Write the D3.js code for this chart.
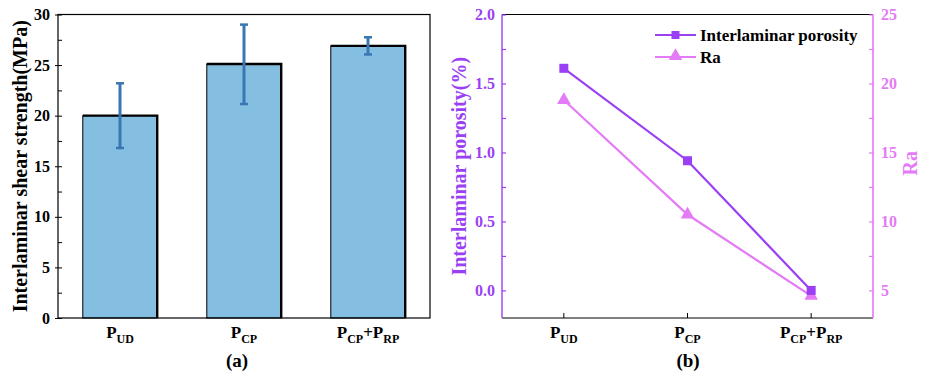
<!DOCTYPE html>
<html>
<head>
<meta charset="utf-8">
<script src="https://cdn.jsdelivr.net/npm/d3@7"></script>
<style>
  body { margin: 0; background: #fff; }
</style>
</head>
<body>
<div id="chart"></div>
<script>
// categories, with label pieces [text, isSubscript]
const categories = ["PUD", "PCP", "PCP+PRP"];
const catParts = [
    [["P", false], ["UD", true]],
    [["P", false], ["CP", true]],
    [["P", false], ["CP", true], ["+P", false], ["RP", true]]
];
const shearStrength = [20.0, 25.1, 26.9];
const shearErrUp = [23.2, 29.0, 27.75];
const shearErrLow = [16.8, 21.15, 26.05];
const porosity = [1.61, 0.94, 0.0];
const ra = [18.8, 10.5, 4.6];
const shearTicks = [0, 5, 10, 15, 20, 25, 30];
const porTicks = [0.0, 0.5, 1.0, 1.5, 2.0];
const raTicks = [5, 10, 15, 20, 25];

const width = 930, height = 377;
const purple = "#9b3ff5", pink = "#e47af5";
const barFill = "#84bfe2", errColor = "#3a76b2";
const FONT = "'Liberation Serif', 'Times New Roman', 'DejaVu Serif', serif";

const svg = d3.select("#chart").append("svg")
    .attr("width", width).attr("height", height)
    .style("font-family", FONT);

const yTop = 14.5, yBot = 318;

function catLabel(g, x, y, parts) {
    const t = g.append("text").attr("x", x).attr("y", y)
        .attr("text-anchor", "middle").attr("font-family", FONT)
        .style("font-weight", "bold").style("font-size", "17px");
    let shifted = false;
    parts.forEach(([s, sub]) => {
        const ts = t.append("tspan").text(s);
        if (sub) { ts.style("font-size", "12px").attr("dy", 5); shifted = true; }
        else if (shifted) { ts.attr("dy", -5); shifted = false; }
    });
}

function styleTicks(g, col) {
    g.attr("font-family", FONT).attr("font-size", 16).attr("font-weight", "bold");
    g.selectAll("text").attr("fill", col);
}

// ---------------- panel (a) ----------------
const xA = d3.scaleBand().domain(categories).range([58, 430]).paddingInner(0.4).paddingOuter(0.2);
const yA = d3.scaleLinear().domain([0, 30]).range([yBot, yTop]);
const gA = svg.append("g");

// bars
gA.selectAll("rect.bar").data(categories).enter().append("rect")
    .attr("class", "bar")
    .attr("x", d => xA(d))
    .attr("y", (d, i) => yA(shearStrength[i]))
    .attr("width", xA.bandwidth())
    .attr("height", (d, i) => yA(0) - yA(shearStrength[i]))
    .attr("fill", barFill)
    .attr("stroke", "#000").attr("stroke-width", 1);
// thicker top + right edges
gA.selectAll("path.edge").data(categories).enter().append("path")
    .attr("d", (d, i) => `M${xA(d)},${yA(shearStrength[i])}H${xA(d) + xA.bandwidth()}V${yA(0)}`)
    .attr("fill", "none").attr("stroke", "#000").attr("stroke-width", 2.4);

// error bars
const eb = gA.selectAll("g.err").data(categories).enter().append("g")
    .attr("transform", d => `translate(${xA(d) + xA.bandwidth() / 2},0)`);
eb.append("line").attr("y1", (d, i) => yA(shearErrUp[i])).attr("y2", (d, i) => yA(shearErrLow[i]))
    .attr("stroke", errColor).attr("stroke-width", 3);
eb.append("line").attr("x1", -4).attr("x2", 4)
    .attr("y1", (d, i) => yA(shearErrUp[i])).attr("y2", (d, i) => yA(shearErrUp[i]))
    .attr("stroke", errColor).attr("stroke-width", 2.5);
eb.append("line").attr("x1", -4).attr("x2", 4)
    .attr("y1", (d, i) => yA(shearErrLow[i])).attr("y2", (d, i) => yA(shearErrLow[i]))
    .attr("stroke", errColor).attr("stroke-width", 2.5);

// frame
gA.append("rect").attr("x", 58).attr("y", yTop).attr("width", 372).attr("height", yBot - yTop)
    .attr("fill", "none").attr("stroke", "#000").attr("stroke-width", 1.2);

// y axis
gA.append("g").attr("transform", "translate(58,0)")
    .call(d3.axisLeft(yA).tickValues(shearTicks).tickSize(3).tickPadding(5).tickFormat(d3.format("d")))
    .call(g => g.select(".domain").remove())
    .call(g => styleTicks(g, "#000"));
gA.append("g").attr("transform", "translate(58,0)")
    .call(d3.axisRight(yA).tickValues(d3.range(0, 30.1, 2.5)).tickSize(4).tickFormat(""))
    .call(g => g.select(".domain").remove());

gA.append("text").attr("transform", `translate(27,${(yTop + yBot) / 2}) rotate(-90)`)
    .attr("text-anchor", "middle").style("font-weight", "bold").style("font-size", "20px")
    .text("Interlaminar shear strength(MPa)");

categories.forEach((c, i) => catLabel(gA, xA(c) + xA.bandwidth() / 2, 338, catParts[i]));
gA.append("text").attr("x", 237).attr("y", 367).attr("text-anchor", "middle")
    .style("font-weight", "bold").style("font-size", "19px").text("(a)");

// ---------------- panel (b) ----------------
const xB = d3.scaleBand().domain(categories).range([502, 873]);
const yL = d3.scaleLinear().domain([-0.2, 2.0]).range([yBot, yTop]);
const yR = d3.scaleLinear().domain([3, 25]).range([yBot, yTop]);
const cx = d => xB(d) + xB.bandwidth() / 2;
const gB = svg.append("g");

// top and bottom axis lines
gB.append("line").attr("x1", 502).attr("x2", 873).attr("y1", yTop).attr("y2", yTop)
    .attr("stroke", "#000").attr("stroke-width", 1.2);
gB.append("g").attr("transform", `translate(0,${yBot})`)
    .call(d3.axisTop(xB).tickSize(5).tickFormat(""))
    .call(g => g.select(".domain").attr("stroke-width", 1.2).attr("d", "M502,0H873"));

// left axis (purple)
gB.append("g").attr("transform", "translate(502,0)")
    .call(d3.axisLeft(yL).tickValues(porTicks).tickSize(0).tickPadding(7).tickFormat(d3.format(".1f")))
    .call(g => g.select(".domain").attr("stroke", purple).attr("stroke-width", 1.4).attr("d", `M0,${yTop}V${yBot}`))
    .call(g => styleTicks(g, purple));
gB.append("g").attr("transform", "translate(502,0)")
    .call(d3.axisRight(yL).tickValues(d3.range(0, 2.01, 0.25)).tickSize(4).tickFormat(""))
    .call(g => g.select(".domain").remove())
    .call(g => g.selectAll("line").attr("stroke", purple).attr("stroke-width", 1.2));

// right axis (pink)
gB.append("g").attr("transform", "translate(873,0)")
    .call(d3.axisRight(yR).tickValues(raTicks).tickSize(0).tickPadding(8).tickFormat(d3.format("d")))
    .call(g => g.select(".domain").attr("stroke", pink).attr("stroke-width", 1.6).attr("d", `M0,${yTop}V${yBot}`))
    .call(g => styleTicks(g, pink));
gB.append("g").attr("transform", "translate(873,0)")
    .call(d3.axisLeft(yR).tickValues(d3.range(5, 25.1, 2.5)).tickSize(4).tickFormat(""))
    .call(g => g.select(".domain").remove())
    .call(g => g.selectAll("line").attr("stroke", pink).attr("stroke-width", 1.2));

// lines
const linePor = d3.line().x((d, i) => cx(categories[i])).y(d => yL(d));
const lineRa = d3.line().x((d, i) => cx(categories[i])).y(d => yR(d));
gB.append("path").datum(ra).attr("d", lineRa).attr("fill", "none").attr("stroke", pink).attr("stroke-width", 2.2);
gB.append("path").datum(porosity).attr("d", linePor).attr("fill", "none").attr("stroke", purple).attr("stroke-width", 2.2);

const tri = d3.symbol().type(d3.symbolTriangle).size(80);
gB.selectAll("path.tri").data(ra).enter().append("path")
    .attr("d", tri).attr("fill", pink)
    .attr("transform", (d, i) => `translate(${cx(categories[i])},${yR(d)})`);
gB.selectAll("rect.sq").data(porosity).enter().append("rect")
    .attr("x", (d, i) => cx(categories[i]) - 4.5).attr("y", d => yL(d) - 4.5)
    .attr("width", 9).attr("height", 9).attr("fill", purple);

// legend
const legend = [["Interlaminar porosity", purple, "sq"], ["Ra", pink, "tri"]];
legend.forEach(([name, col, m], i) => {
    const y = 35 + i * 22;
    gB.append("line").attr("x1", 655).attr("x2", 696).attr("y1", y).attr("y2", y)
        .attr("stroke", col).attr("stroke-width", 2.2);
    if (m === "sq") gB.append("rect").attr("x", 671.5).attr("y", y - 4).attr("width", 8).attr("height", 8).attr("fill", col);
    else gB.append("path").attr("d", tri).attr("fill", col).attr("transform", `translate(675.5,${y - 1})`);
    gB.append("text").attr("x", 700).attr("y", y + 6).style("font-weight", "bold").style("font-size", "17px").text(name);
});

gB.append("text").attr("transform", `translate(466,${(yTop + yBot) / 2}) rotate(-90)`)
    .attr("text-anchor", "middle").style("font-weight", "bold").style("font-size", "20px")
    .attr("fill", purple).text("Interlaminar porosity(%)");
gB.append("text").attr("transform", `translate(917,${(yTop + yBot) / 2 - 3}) rotate(-90)`)
    .attr("text-anchor", "middle").style("font-weight", "bold").style("font-size", "20px")
    .attr("fill", pink).text("Ra");

categories.forEach((c, i) => catLabel(gB, cx(c), 338, catParts[i]));
gB.append("text").attr("x", 688).attr("y", 367).attr("text-anchor", "middle")
    .style("font-weight", "bold").style("font-size", "19px").text("(b)");
</script>
</body>
</html>
